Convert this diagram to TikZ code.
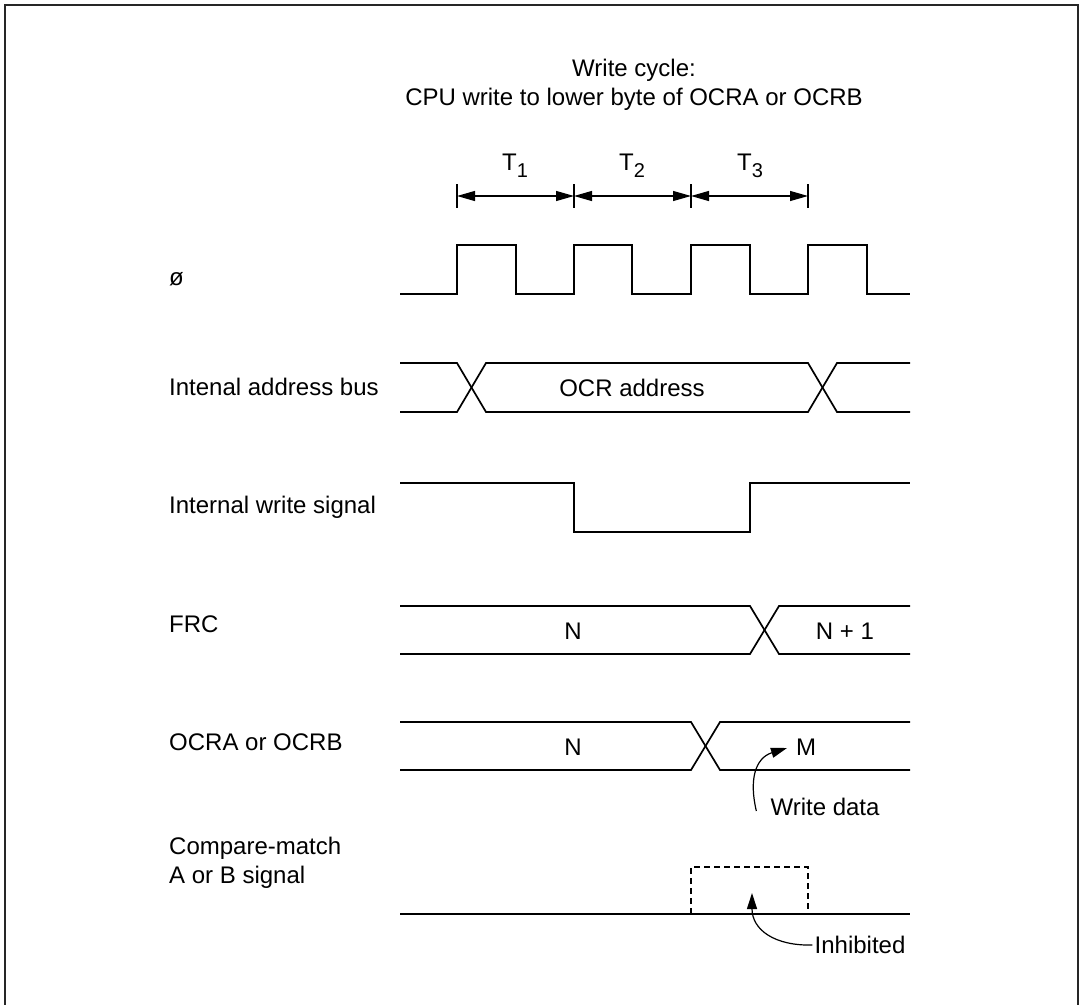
\documentclass[tikz,border=0pt]{standalone}
\usepackage{fontspec}
\setmainfont{Liberation Sans}
\usetikzlibrary{arrows.meta}
\begin{document}
\begin{tikzpicture}[x=1pt,y=-1pt,
  sig/.style={line width=1.7pt,line join=miter},
  txt/.style={inner sep=0pt,font=\fontsize{24}{29}\selectfont},
  lbl/.style={txt,anchor=west,align=left},
  dim/.style={line width=1.2pt,{Triangle[length=18pt,width=10pt]}-{Triangle[length=18pt,width=10pt]}},
  tick/.style={line width=1.2pt},
  note/.style={line width=1.2pt,-{Triangle[length=16pt,width=10pt]}}]
\useasboundingbox (0,0) rectangle (1083,1004);
\begin{scope}
\clip (0,0) rectangle (1083,1004);
\draw[line width=2.5pt,black!85] (5,5) rectangle (1078,1030);
\end{scope}
% title
\node[txt,align=center] (title) at (634,85) {Write cycle:\\CPU write to lower byte of OCRA or OCRB};
% T labels
\newcommand{\Tsub}[1]{T\raisebox{-7pt}{\fontsize{20}{20}\selectfont #1}}
\node[txt] (t1) at (515,166) {\Tsub{1}};
\node[txt] (t2) at (632,166) {\Tsub{2}};
\node[txt] (t3) at (750,166) {\Tsub{3}};
\foreach \x in {457,574,691,808} \draw[tick] (\x,184) -- (\x,208);
\coordinate (d0) at (457,196); \coordinate (d1) at (574,196);
\coordinate (d2) at (691,196); \coordinate (d3) at (808,196);
\draw[dim] (d0) -- (d1);
\draw[dim] (d1) -- (d2);
\draw[dim] (d2) -- (d3);
% labels
\node[lbl] (lphi) at (169,279) {ø};
\node[lbl] (laddr) at (169,387) {Intenal address bus};
\node[lbl] (lwrite) at (169,507) {Internal write signal};
\node[lbl] (lfrc) at (169,624) {FRC};
\node[lbl] (locr) at (169,742) {OCRA or OCRB};
\node[lbl] (lcmp) at (169,863) {Compare-match\\A or B signal};
% clock
\draw[sig] (400,294) -- (457,294) -- (457,245) -- (516,245) -- (516,294) -- (574,294) -- (574,245) -- (632,245) -- (632,294) -- (691,294) -- (691,245) -- (750,245) -- (750,294) -- (808,294) -- (808,245) -- (867,245) -- (867,294) -- (910,294);
% address bus
\draw[sig] (400,363) -- (457,363) -- (486,412) -- (808,412) -- (837,363) -- (910,363);
\draw[sig] (400,412) -- (457,412) -- (486,363) -- (808,363) -- (837,412) -- (910,412);
\node[txt] (ocra) at (632,388) {OCR address};
% write signal
\draw[sig] (400,483) -- (574,483) -- (574,532) -- (750,532) -- (750,483) -- (910,483);
% FRC
\draw[sig] (400,606) -- (750,606) -- (779,654) -- (910,654);
\draw[sig] (400,654) -- (750,654) -- (779,606) -- (910,606);
\node[txt] (frcn) at (573,631) {N};
\node[txt] (frcn1) at (845,631) {N + 1};
% OCR
\draw[sig] (400,722) -- (691,722) -- (720,770) -- (910,770);
\draw[sig] (400,770) -- (691,770) -- (720,722) -- (910,722);
\node[txt] (ocrn) at (573,747) {N};
\node[txt] (ocrm) at (806,747) {M};
\node[txt] (wdata) at (825,807) {Write data};
\coordinate (wtip) at (787,748);
\draw[note] ([xshift=-14pt,yshift=-4pt]wdata.west) .. controls (749,780) and (755,758) .. (wtip);
% compare match
\draw[sig] (400,914) -- (910,914);
\draw[line width=1.2pt,dash pattern=on 6pt off 4pt] (691,914) -- (691,867) -- (808,867) -- (808,914);
\node[txt] (inh) at (860,945) {Inhibited};
\coordinate (itip) at (752,893);
\draw[note] ([xshift=-2pt]inh.west) .. controls (775,946) and (752,930) .. (itip);
\end{tikzpicture}
\end{document}
